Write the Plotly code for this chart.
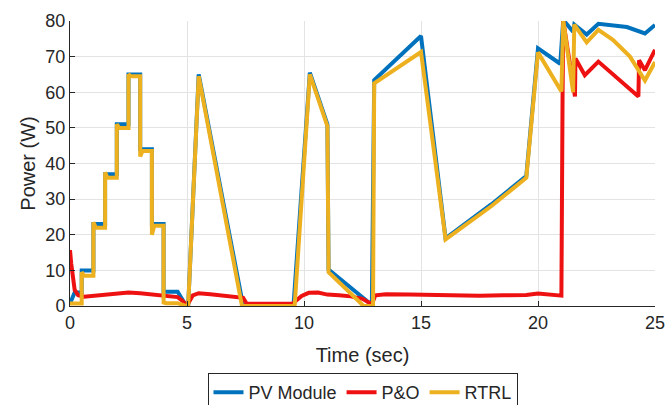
import plotly.graph_objects as go

# ---- data ----
pv_t = [0, 0.2, 0.5, 0.5, 1.0, 1.0, 1.5, 1.5, 2.0, 2.0, 2.5, 2.5, 3.0, 3.0, 3.5, 3.5,
        4.0, 4.0, 4.6, 4.97, 5.05, 5.5, 7.4, 9.55, 10.25, 11.0, 11.05, 12.9, 13.0,
        15.0, 16.05, 18.0, 19.5, 20.0, 20.95, 21.08, 21.5, 21.55, 22.08, 22.58,
        23.8, 24.57, 25.0]
pv_p = [0.7, 3.8, 3.8, 10, 10, 23, 23, 37, 37, 51, 51, 65, 65, 44, 44, 23,
        23, 4, 4, 0, 0, 65, 0, 0, 65.5, 51, 10.2, 0.3, 63.4,
        75.8, 19, 28.5, 36.5, 72.3, 68, 80.3, 77, 79, 76.2, 79.2,
        78.3, 76.5, 78.9]

po_t = [0, 0.05, 0.2, 0.35, 0.6, 1.0, 1.5, 2.0, 2.5, 3.0, 3.5, 3.9, 4.3, 4.6, 4.8,
        5.0, 5.25, 5.5, 6.0, 6.5, 7.0, 7.4, 7.55, 8.5, 9.5, 9.9, 10.2, 10.6, 11.0,
        11.5, 12.0, 12.5, 12.9, 13.05, 13.5, 14.5, 15.5, 16.5, 17.5, 18.5, 19.5,
        20.0, 20.5, 21.0, 21.05, 21.08, 21.58, 21.6, 22.0, 22.58, 24.29, 24.32,
        24.57, 25.0]
po_p = [15.7, 12, 4.5, 3.0, 2.6, 2.9, 3.3, 3.6, 3.8, 3.6, 3.3, 3.1, 2.8, 2.5, 1.5,
        0.1, 3.0, 3.6, 3.3, 3.0, 2.8, 2.3, 0.6, 0.6, 0.6, 2.8, 3.7, 3.8, 3.2,
        3.0, 2.7, 2.0, 0.5, 3.0, 3.3, 3.2, 3.1, 2.9, 2.9, 3.0, 3.1,
        3.5, 3.2, 2.9, 59, 80, 58.8, 69.5, 64.8, 68.6, 58.8, 69,
        66.2, 71.9]

rt_t = [0, 0.5, 0.5, 0.6, 1.0, 1.0, 1.1, 1.5, 1.5, 1.6, 2.0, 2.0, 2.1, 2.5, 2.5, 2.6,
        3.0, 3.0, 3.1, 3.5, 3.5, 3.6, 4.0, 4.0, 4.1, 4.6, 4.95, 5.05, 5.5, 7.35,
        9.6, 10.25, 11.0, 11.05, 12.55, 12.95, 13.0, 15.0, 16.05, 18.0, 19.5, 20.0,
        21.0, 21.08, 21.5, 21.55, 22.08, 22.58, 23.2, 23.93, 24.57, 25.0]
rt_p = [0.7, 0.7, 9.5, 8.5, 8.5, 23.5, 22, 22, 37.5, 36, 36, 51, 50, 50, 65, 64.5,
        64.5, 42, 43.5, 43.5, 20, 22.5, 22.5, 1, 0.8, 0.8, 0, 0, 64.5, 0,
        0, 65, 50.5, 9.5, 0, 0, 62.5, 71.3, 18.7, 28, 36, 71.2,
        60.2, 80.2, 60, 79, 74, 77.5, 74.7, 70, 63.3, 68.5]

names = ["PV Module", "P&O", "RTRL"]
colors = ["#0072BD", "#EE1111", "#EDB120"]
x_ticks = [0, 5, 10, 15, 20, 25]
y_ticks = [0, 10, 20, 30, 40, 50, 60, 70, 80]

fig = go.Figure()
for t, p, n, c in zip([pv_t, po_t, rt_t], [pv_p, po_p, rt_p], names, colors):
    fig.add_trace(go.Scatter(x=t, y=p, mode="lines", name=n,
                             line=dict(color=c, width=4), cliponaxis=False))

font = "Liberation Sans, Arial, sans-serif"
fig.update_layout(
    width=667, height=405,
    margin=dict(l=70, r=12, t=21, b=99, autoexpand=False),
    paper_bgcolor="white", plot_bgcolor="white",
    font=dict(family=font, color="#262626"),
    showlegend=True,
    legend=dict(orientation="h", x=0.5, xanchor="center",
                yref="container", y=1 - 373 / 405, yanchor="top",
                bordercolor="#262626", borderwidth=1, bgcolor="white",
                font=dict(size=18, family=font, color="#262626"),
                tracegroupgap=0),
)
fig.update_xaxes(range=[0, 25], tickvals=x_ticks, ticks="inside", ticklen=5,
                 tickcolor="#262626", showline=True, linecolor="#262626", linewidth=1,
                 showgrid=True, gridcolor="#e3e3e3", gridwidth=1, zeroline=False,
                 automargin=False,
                 tickfont=dict(size=18), title=dict(text="Time (sec)", font=dict(size=20), standoff=16))
fig.update_yaxes(range=[0, 80], tickvals=y_ticks, ticks="inside", ticklen=5,
                 tickcolor="#262626", showline=True, linecolor="#262626", linewidth=1,
                 showgrid=True, gridcolor="#e3e3e3", gridwidth=1, zeroline=False,
                 automargin=False,
                 tickfont=dict(size=18), title=dict(text="Power (W)", font=dict(size=20), standoff=4))

fig.write_html("out.html")
